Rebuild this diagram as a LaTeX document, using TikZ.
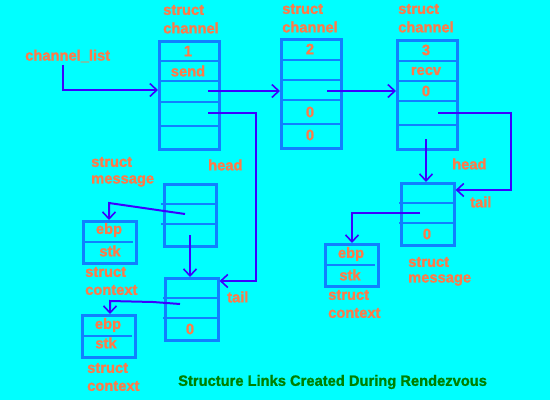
\documentclass[tikz,border=0pt]{standalone}
\usepackage{fontspec}
\setmainfont{Liberation Sans}[FakeStretch=0.98, BoldFont={Liberation Sans Bold}, BoldFeatures={FakeBold=1.2}]
\usetikzlibrary{arrows.meta}
\definecolor{bgcyan}{RGB}{0,255,255}
\definecolor{boxblue}{RGB}{16,128,255}
\definecolor{arrblue}{RGB}{60,0,255}
\definecolor{txtorange}{RGB}{255,122,72}
\definecolor{capgreen}{RGB}{0,128,0}
\tikzset{
  boxnode/.style={draw=boxblue, line width=2.6pt, rectangle, inner sep=0pt, anchor=north west},
  divline/.style={draw=boxblue, line width=2.6pt},
  conn/.style={draw=arrblue, line width=2pt},
  arr/.style={conn, -{Straight Barb[length=7pt,width=13pt,line width=1.6pt]}},
  lbl/.style={text=txtorange, font=\fontsize{15}{15}\selectfont\bfseries, inner sep=0pt, anchor=west},
  cell/.style={text=txtorange, font=\fontsize{15}{15}\selectfont\bfseries, inner sep=0pt, anchor=center},
  captxt/.style={text=capgreen, font=\fontsize{15}{15}\selectfont\bfseries, inner sep=0pt, anchor=west}
}
\begin{document}
\begin{tikzpicture}[x=1pt,y=-1pt]
\fill[bgcyan] (0,0) rectangle (550,400);
\useasboundingbox (0,0) rectangle (550,400);

% channel 1
\node[boxnode, minimum width=60pt, minimum height=108pt] (c1) at (158,40) {};
\foreach \yy in {61,81,102,126} \draw[divline] (158,\yy) -- (218,\yy);
\node[cell] (c1a) at (188,51) {1};
\node[cell] (c1b) at (188,71) {send};
\node[lbl] (c1s) at (163,10) {struct};
\node[lbl] (c1t) at (163,28) {channel};

% channel 2
\node[boxnode, minimum width=60pt, minimum height=109pt] (c2) at (280,38) {};
\foreach \yy in {60,80,100,124} \draw[divline] (280,\yy) -- (340,\yy);
\node[cell] (c2a) at (310,49) {2};
\node[cell] (c2d) at (310,112) {0};
\node[cell] (c2e) at (310,135) {0};
\node[lbl] (c2s) at (282,9) {struct};
\node[lbl] (c2t) at (282,27) {channel};

% channel 3
\node[boxnode, minimum width=60pt, minimum height=109pt] (c3) at (396,39) {};
\foreach \yy in {61,81,101,125} \draw[divline] (396,\yy) -- (456,\yy);
\node[cell] (c3a) at (426,50) {3};
\node[cell] (c3b) at (426,71) {recv};
\node[cell] (c3c) at (426,91) {0};
\node[lbl] (c3s) at (398,9) {struct};
\node[lbl] (c3t) at (398,27) {channel};

% right message
\node[boxnode, minimum width=53pt, minimum height=62pt] (mr) at (400,182) {};
\foreach \yy in {203,223} \draw[divline] (399,\yy) -- (454,\yy);
\node[cell] (mrc) at (427,234) {0};
\node[lbl] (mrs) at (408,262) {struct};
\node[lbl] (mrt) at (408,280) {message};

% right context
\node[boxnode, minimum width=53pt, minimum height=42pt] (xr) at (324,243) {};
\draw[divline] (324,265) -- (375,265);
\node[cell] (xra) at (351,254) {ebp};
\node[cell] (xrb) at (350,275) {stk};
\node[lbl] (xrs) at (328,295) {struct};
\node[lbl] (xrt) at (328,313) {context};

% left upper message
\node[boxnode, minimum width=52pt, minimum height=62pt] (m1) at (163,183) {};
\foreach \yy in {204,224} \draw[divline] (161,\yy) -- (215,\yy);
\node[lbl] (m1s) at (91,162) {struct};
\node[lbl] (m1t) at (91,181) {message};

% left upper context
\node[boxnode, minimum width=53pt, minimum height=42pt] (x1) at (82,220) {};
\draw[divline] (82,242) -- (133,242);
\node[cell] (x1a) at (109,230) {ebp};
\node[cell] (x1b) at (110,251) {stk};
\node[lbl] (x1s) at (85,272) {struct};
\node[lbl] (x1t) at (85,290) {context};

% left lower message
\node[boxnode, minimum width=53pt, minimum height=62pt] (m2) at (164,277) {};
\foreach \yy in {298,318} \draw[divline] (163,\yy) -- (217,\yy);
\node[cell] (m2c) at (190,329) {0};

% left lower context
\node[boxnode, minimum width=53pt, minimum height=42pt] (x2) at (81,314) {};
\draw[divline] (81,336) -- (132,336);
\node[cell] (x2a) at (108,325) {ebp};
\node[cell] (x2b) at (106,343) {stk};
\node[lbl] (x2s) at (87,368) {struct};
\node[lbl] (x2t) at (87,386) {context};

% other labels
\node[lbl] (cl) at (25,56) {channel\_list};
\node[lbl] (h1) at (208,165) {head};
\node[lbl] (t1) at (227,297) {tail};
\node[lbl] (h3) at (452,164) {head};
\node[lbl] (t3) at (470,202) {tail};
\node[captxt] (caption) at (178,382) {Structure Links Created During Rendezvous};

% connector points
\coordinate (clp) at (63,65);
\coordinate (clr) at (63,90);
\coordinate (c1p) at (208,91);
\coordinate (c2p) at (327,91);
\coordinate (c1h) at (208,113);
\coordinate (c1hr) at (256,113);
\coordinate (c1hd) at (256,281);
\coordinate (c3h) at (438,113);
\coordinate (c3hr) at (511,113);
\coordinate (c3hd) at (511,190);
\coordinate (c3d) at (426,139);
\coordinate (m1d) at (190,235);
\coordinate (m1x) at (185,214);
\coordinate (m1k) at (109,203);
\coordinate (m2x) at (180,304);
\coordinate (m2m) at (153,302);
\coordinate (m2k) at (110,301);
\coordinate (mrx) at (420,213);
\coordinate (mrk) at (352,213);

% connectors
\draw[arr] (clp) -- (clr) -- (clr -| c1.west);
\draw[arr] (c1p) -- (c1p -| c2.west);
\draw[arr] (c2p) -- (c2p -| c3.west);
\draw[arr] (c1h) -- (c1hr) -- (c1hd) -- (c1hd -| m2.east);
\draw[arr] (c3h) -- (c3hr) -- (c3hd) -- (c3hd -| mr.east);
\draw[arr] (c3d) -- (c3d |- mr.north);
\draw[arr] (m1d) -- (m1d |- m2.north);
\draw[arr] (m1x) -- (m1k) -- (m1k |- x1.north);
\draw[arr] (m2x) -- (m2m) -- (m2k) -- (m2k |- x2.north);
\draw[arr] (mrx) -- (mrk) -- (mrk |- xr.north);
\end{tikzpicture}
\end{document}
